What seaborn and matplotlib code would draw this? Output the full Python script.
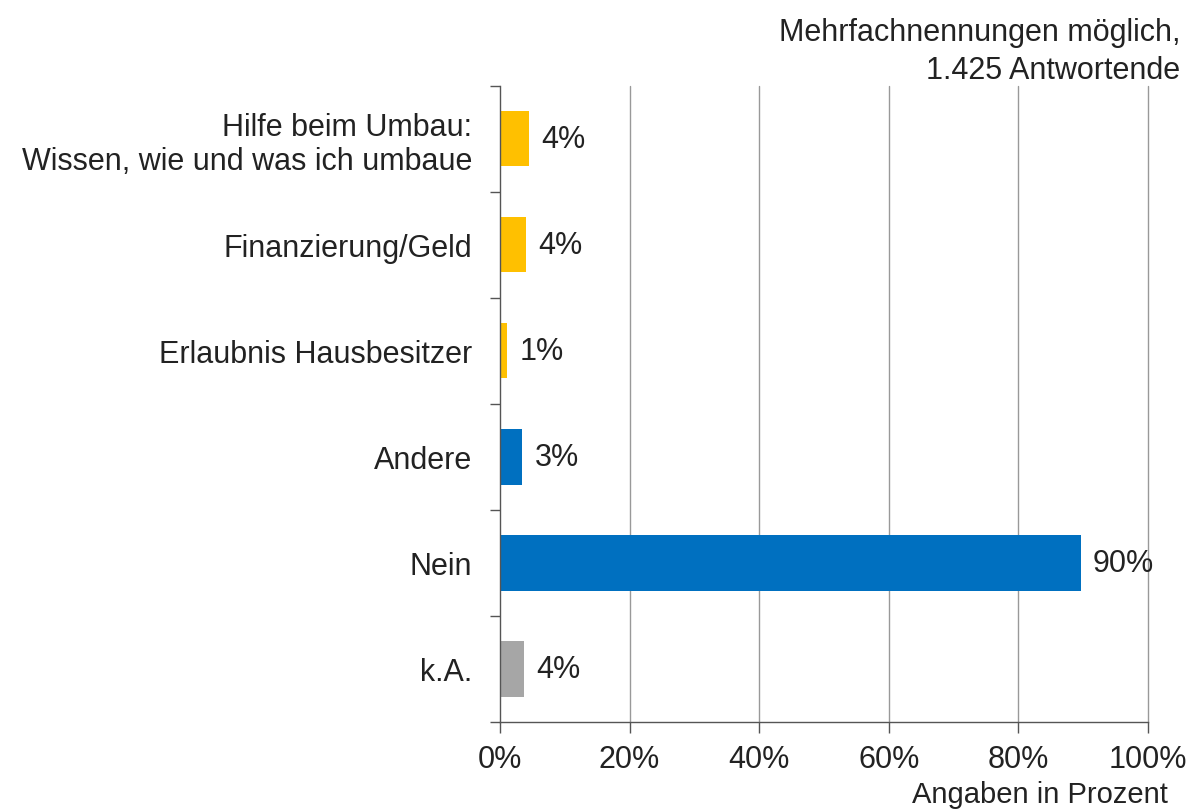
import numpy as np
import pandas as pd
import matplotlib
matplotlib.use("Agg")
import matplotlib.pyplot as plt
import seaborn as sns
from matplotlib.ticker import FixedLocator

# Daten
kategorien = ['Hilfe beim Umbau:\nWissen, wie und was ich umbaue',
              'Finanzierung/Geld',
              'Erlaubnis Hausbesitzer',
              'Andere',
              'Nein',
              'k.A.']
werte = [4.5, 4.0, 1.1, 3.4, 89.6, 3.7]
beschriftung = ['4%', '4%', '1%', '3%', '90%', '4%']
farben = ['#FFC000', '#FFC000', '#FFC000', '#0070C0', '#0070C0', '#A6A6A6']
x_ticks = [0, 20, 40, 60, 80, 100]

sns.set_theme(style='white')
plt.rcParams['font.family'] = ['Liberation Sans', 'DejaVu Sans']

df = pd.DataFrame({'kat': kategorien, 'wert': werte})

fig = plt.figure(figsize=(11.92, 8.12), dpi=100)
ax = fig.add_axes([0.4195, 0.1096, 0.5435, 0.7834])

sns.barplot(data=df, y='kat', x='wert', hue='kat', palette=farben, legend=False,
            orient='h', width=0.52, saturation=1, ax=ax, edgecolor='none')

ax.set_xlim(0, 100)
ax.set_ylim(len(kategorien) - 0.5, -0.5)
ax.set_xticks(x_ticks)
ax.set_xticklabels([f'{t}%' for t in x_ticks], fontsize=22, color='#222222')
ax.set_yticks(range(len(kategorien)))
ax.set_yticklabels(kategorien, fontsize=22, color='#222222', ha='right',
                   multialignment='right', linespacing=1.15)
ax.yaxis.set_minor_locator(FixedLocator(np.arange(-0.5, len(kategorien), 1)))
ax.tick_params(axis='y', which='major', length=0, pad=20)
ax.tick_params(axis='y', which='minor', length=7, width=1, color='#555555', direction='out', left=True)
ax.tick_params(axis='x', which='major', length=8, width=1, color='#555555', direction='out',
               bottom=True, pad=8)
ax.set_xlabel('')
ax.set_ylabel('')

# Gitterlinien
for t in x_ticks[1:]:
    ax.axvline(t, color='#999999', lw=1, zorder=0, clip_on=False)

for s in ['top', 'right']:
    ax.spines[s].set_visible(False)
for s in ['left', 'bottom']:
    ax.spines[s].set_color('#555555')
    ax.spines[s].set_linewidth(1)

# Werte an den Balken
for i, (v, txt) in enumerate(zip(werte, beschriftung)):
    ax.annotate(txt, xy=(v, i), xytext=(9, 0), textcoords='offset points',
                va='center', ha='left', fontsize=22, color='#222222')

fig.text(0.99, 0.978, 'Mehrfachnennungen möglich,\n1.425 Antwortende', ha='right', va='top',
         fontsize=22, color='#222222', multialignment='right', linespacing=1.35)
fig.text(0.98, 0.004, 'Angaben in Prozent', ha='right', va='bottom', fontsize=21, color='#222222')

fig.savefig('out.png', dpi=100)
